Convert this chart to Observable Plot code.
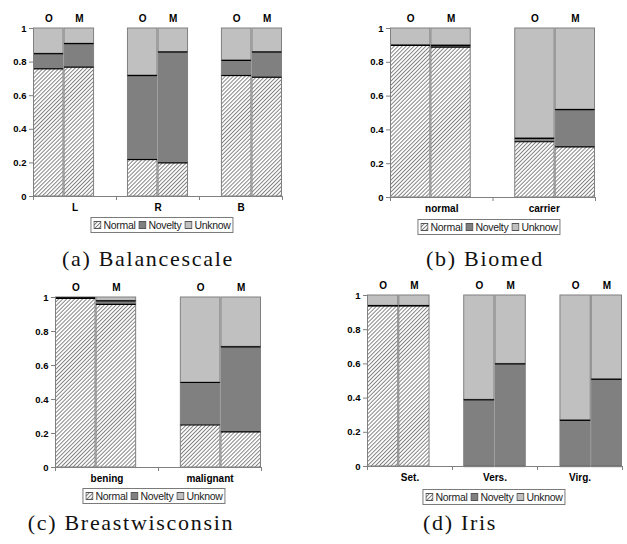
<!DOCTYPE html>
<html><head><meta charset="utf-8">
<script src="https://cdn.jsdelivr.net/npm/d3@7"></script>
<script src="https://cdn.jsdelivr.net/npm/@observablehq/plot@0.6"></script>
<style>
body{margin:0;background:#fff;}
#root{position:relative;width:627px;height:544px;overflow:hidden;font-family:"Liberation Sans",Arial,sans-serif;}
.panel{position:absolute;}
.legend{position:absolute;box-sizing:border-box;height:16px;border:1px solid #7a7a7a;display:flex;align-items:center;gap:3px;padding:0 2px;transform:translateX(-50%);font-size:10.5px;letter-spacing:-0.3px;color:#222;font-family:"Liberation Sans",Arial,sans-serif;white-space:nowrap;}
.legend span.item{display:flex;align-items:center;}
.legend svg{margin-right:2px;flex:none;}
.caption{position:absolute;width:300px;text-align:center;font-family:"Liberation Serif","DejaVu Serif","Times New Roman",serif;font-size:22px;line-height:22px;letter-spacing:1.7px;color:#111;white-space:nowrap;}
</style></head>
<body>
<svg width="0" height="0" style="position:absolute">
  <defs>
    <pattern id="hatch" patternUnits="userSpaceOnUse" width="2.8" height="2.8" patternTransform="rotate(45)">
      <rect width="2.8" height="2.8" fill="#fff"></rect>
      <line x1="0.5" y1="0" x2="0.5" y2="2.8" stroke="#666" stroke-width="0.8"></line>
    </pattern>
  </defs>
</svg>
<div id="root"></div>
<script>
// ---- shared labels ----
const seriesNames = ["O", "M"];
const segmentNames = ["Normal", "Novelty", "Unknow"];
const yTicks = [0, 0.2, 0.4, 0.6, 0.8, 1];

// ---- (a) Balancescale : values ordered [cat O, cat M, ...] ----
const balanceCats = ["L", "R", "B"];
const balanceNormal  = [0.76, 0.77, 0.22, 0.20, 0.72, 0.71];
const balanceNovelty = [0.09, 0.14, 0.50, 0.66, 0.09, 0.15];
const balanceUnknow  = [0.15, 0.09, 0.28, 0.14, 0.19, 0.14];

// ---- (b) Biomed ----
const biomedCats = ["normal", "carrier"];
const biomedNormal  = [0.90, 0.89, 0.33, 0.30];
const biomedNovelty = [0.00, 0.01, 0.02, 0.22];
const biomedUnknow  = [0.10, 0.10, 0.65, 0.48];

// ---- (c) Breastwisconsin ----
const breastCats = ["bening", "malignant"];
const breastNormal  = [0.995, 0.96, 0.25, 0.21];
const breastNovelty = [0.003, 0.02, 0.25, 0.50];
const breastUnknow  = [0.002, 0.02, 0.50, 0.29];

// ---- (d) Iris ----
const irisCats = ["Set.", "Vers.", "Virg."];
const irisNormal  = [0.94, 0.94, 0.00, 0.00, 0.00, 0.00];
const irisNovelty = [0.00, 0.00, 0.39, 0.60, 0.27, 0.51];
const irisUnknow  = [0.06, 0.06, 0.61, 0.40, 0.73, 0.49];

const captions = ["(a) Balancescale", "(b) Biomed", "(c) Breastwisconsin", "(d) Iris"];

const segmentFills = ["url(#hatch)", "#808080", "#c0c0c0"];

const panels = [
  {cats: balanceCats, normal: balanceNormal, novelty: balanceNovelty, unknow: balanceUnknow, caption: captions[0],
   left: 0, top: 0, width: 313, height: 215, mL: 33, mR: 31, mT: 28, mB: 19,
   legend: {cx: 162, top: 217}, cap: {cx: 148, top: 248}},
  {cats: biomedCats, normal: biomedNormal, novelty: biomedNovelty, unknow: biomedUnknow, caption: captions[1],
   left: 313, top: 0, width: 314, height: 215, mL: 77, mR: 32, mT: 28, mB: 18,
   legend: {cx: 489, top: 219}, cap: {cx: 485, top: 248}},
  {cats: breastCats, normal: breastNormal, novelty: breastNovelty, unknow: breastUnknow, caption: captions[2],
   left: 0, top: 270, width: 313, height: 215, mL: 55, mR: 52, mT: 27, mB: 18,
   legend: {cx: 154, top: 488}, cap: {cx: 131, top: 512}},
  {cats: irisCats, normal: irisNormal, novelty: irisNovelty, unknow: irisUnknow, caption: captions[3],
   left: 313, top: 270, width: 314, height: 215, mL: 54, mR: 5, mT: 25, mB: 19,
   legend: {cx: 494, top: 489}, cap: {cx: 460, top: 512}}
];

const root = document.getElementById("root");

function makeLegend(p) {
  const div = document.createElement("div");
  div.className = "legend";
  div.style.left = p.legend.cx + "px";
  div.style.top = p.legend.top + "px";
  segmentNames.forEach((name, i) => {
    const item = document.createElement("span");
    item.className = "item";
    item.innerHTML = `<svg width="8" height="8"><rect x="0.5" y="0.5" width="7" height="7" fill="${segmentFills[i]}" stroke="#555" stroke-width="1"></rect></svg>${name}`;
    div.appendChild(item);
  });
  root.appendChild(div);
}

function makePanel(p) {
  const n = p.cats.length;
  const group = d3.scaleBand(p.cats, [0, n]).paddingInner(0.35).paddingOuter(0);
  const half = group.bandwidth() / 2;
  const segs = [], bars = [], bounds = [];
  p.cats.forEach((c, i) => {
    seriesNames.forEach((s, j) => {
      const k = i * 2 + j;
      const x1 = group(c) + j * half, x2 = x1 + half;
      const vals = [p.normal[k], p.novelty[k], p.unknow[k]];
      bars.push({series: s, x1, x2});
      let base = 0;
      vals.forEach((v, m) => {
        segs.push({seg: segmentNames[m], x1, x2, y1: base, y2: base + v});
        base += v;
        if (m < 2) bounds.push({x1, x2, v: base});
      });
    });
  });

  const chart = Plot.plot({
    width: p.width, height: p.height,
    marginLeft: p.mL, marginRight: p.mR, marginTop: p.mT, marginBottom: p.mB,
    style: {fontFamily: "'Liberation Sans', Arial, sans-serif", fontSize: "9.5px", fontWeight: "bold", color: "#000", background: "transparent"},
    x: {type: "linear", domain: [0, n], label: null},
    y: {domain: [0, 1], label: null},
    color: {type: "ordinal", domain: segmentNames, range: segmentFills},
    marks: [
      Plot.rectY(segs, {x1: "x1", x2: "x2", y1: "y1", y2: "y2", fill: "seg", stroke: "#808080", strokeWidth: 1, insetLeft: 0.5, insetRight: 0.5}),
      Plot.ruleY(bounds, {x1: "x1", x2: "x2", y: "v", stroke: "#000", strokeWidth: 1.2, insetLeft: 0.5, insetRight: 0.5}),
      Plot.ruleX([0], {stroke: "#808080"}),
      Plot.ruleY([0], {stroke: "#808080"}),
      Plot.axisY({ticks: yTicks, tickFormat: d => String(d), tickSize: 4, tickPadding: 3, stroke: "#808080", fill: "#000", label: null}),
      Plot.axisX({ticks: d3.range(n + 1), tickFormat: () => "", tickSize: 4, stroke: "#808080", label: null}),
      Plot.text(p.cats, {x: (d, i) => i + 0.5, text: d => d, frameAnchor: "bottom", dy: 14, fill: "#000", fontSize: 10}),
      Plot.text(bars, {x: d => (d.x1 + d.x2) / 2, text: "series", frameAnchor: "top", dy: -14, fill: "#000", fontSize: 10})
    ]
  });
  chart.classList.add("panel");
  chart.style.left = p.left + "px";
  chart.style.top = p.top + "px";
  root.appendChild(chart);

  makeLegend(p);

  const cap = document.createElement("div");
  cap.className = "caption";
  cap.textContent = p.caption;
  cap.style.left = (p.cap.cx - 150) + "px";
  cap.style.top = p.cap.top + "px";
  root.appendChild(cap);
}

panels.forEach(makePanel);
</script>
</body></html>
